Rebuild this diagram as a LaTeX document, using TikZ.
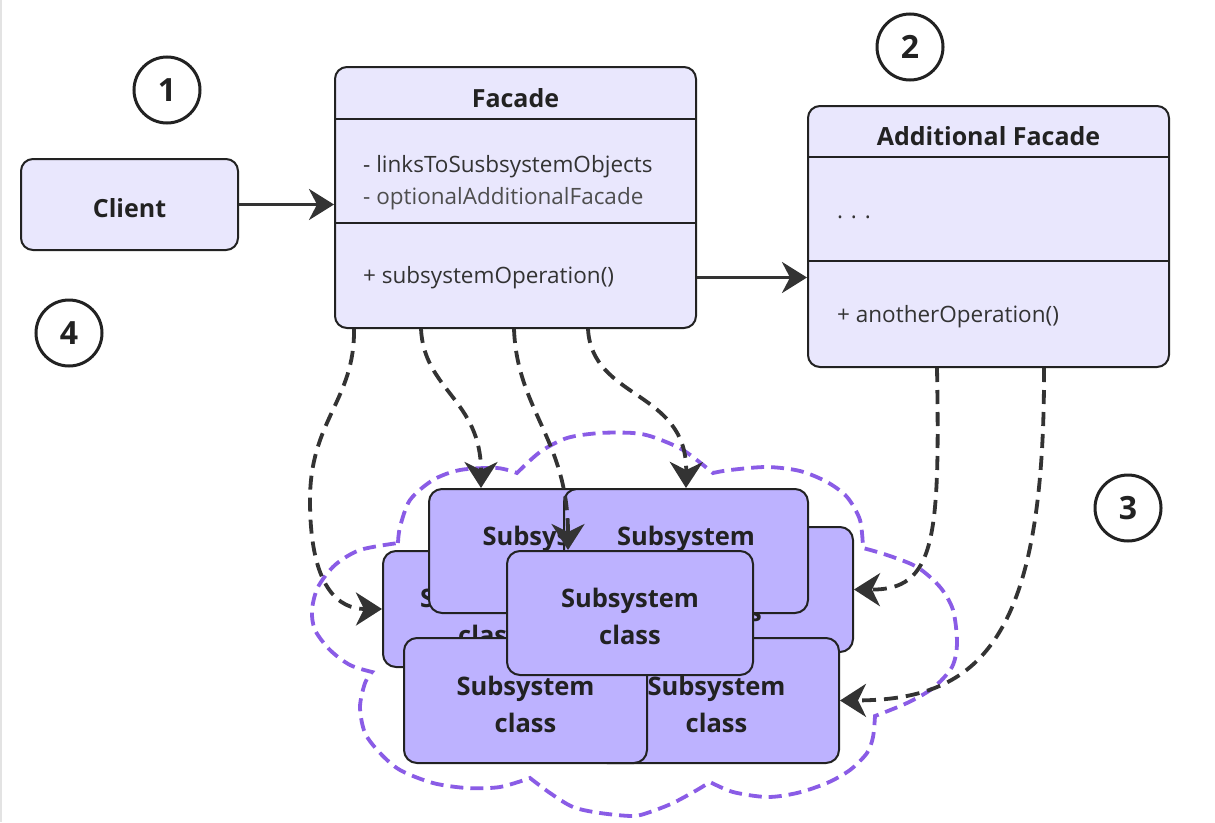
\documentclass[tikz,border=0pt]{standalone}
\usepackage{fontspec}
\setmainfont{Open Sans}
\usetikzlibrary{arrows.meta,calc}

\definecolor{classfill}{HTML}{E9E7FD}
\definecolor{subfill}{HTML}{BDB2FF}
\definecolor{edgeink}{HTML}{333333}
\definecolor{ink}{HTML}{222222}
\definecolor{cloudink}{HTML}{8A5CE6}

\begin{document}
\begin{tikzpicture}[x=1pt,y=-1pt,
  box/.style={draw=ink, line width=2pt, rounded corners=12pt, fill=classfill, inner sep=0pt},
  subbox/.style={draw=ink, line width=2pt, rounded corners=13pt, fill=subfill,
    align=center, text=ink, inner sep=0pt, text height=63pt, text depth=0pt,
    font=\bfseries\fontsize{25.5}{36.7}\selectfont},
  titletext/.style={anchor=base, inner sep=0pt, text=ink, font=\bfseries\fontsize{25}{30}\selectfont},
  membertext/.style={anchor=base west, inner sep=0pt, text=edgeink, font=\fontsize{22.5}{27}\selectfont},
  divider/.style={draw=ink, line width=2pt},
  numcircle/.style={circle, draw=ink, line width=3pt, minimum size=66pt, inner sep=0pt,
    text=ink, font=\bfseries\fontsize{32}{32}\selectfont},
  solidarrow/.style={draw=edgeink, line width=3.5pt, -{Stealth[length=25pt,width=31pt,inset=8pt]}},
  dasharrow/.style={draw=edgeink, line width=3.8pt, dash pattern=on 14pt off 8pt,
    -{Stealth[length=26pt,width=33pt,inset=8pt]}},
  cloudline/.style={draw=cloudink, line width=3.8pt, dash pattern=on 13pt off 7pt}
]
\useasboundingbox (0,0) rectangle (1215,822);
\fill[white] (0,0) rectangle (1215,822);
\draw[gray!22, line width=1.5pt] (1,0) -- (1,822);

% step markers
\node[numcircle] (n1) at (167,90) {1};
\node[numcircle] (n2) at (910,47) {2};
\node[numcircle] (n3) at (1128,508) {3};
\node[numcircle] (n4) at (69,333) {4};

% client
\node[box, minimum width=217pt, minimum height=91pt] (client) at (129.5,204.5) {};
\node[titletext] (clientT) at (129.5,217) {Client};

% facade class
\node[box, minimum width=361pt, minimum height=261pt] (facade) at (515.5,197.5) {};
\node[titletext] (facadeT) at (515.5,107) {Facade};
\draw[divider] ($(facade.north west)+(0,53)$) -- ($(facade.north east)+(0,53)$);
\draw[divider] ($(facade.north west)+(0,157)$) -- ($(facade.north east)+(0,157)$);
\node[membertext] (fa1) at (363,172) {- linksToSusbsystemObjects};
\node[membertext, text=ink!80] (fa2) at (363,204) {- optionalAdditionalFacade};
\node[membertext] (fm1) at (363,283) {+ subsystemOperation()};

% additional facade class
\node[box, minimum width=361pt, minimum height=261pt] (addl) at (988.5,236.5) {};
\node[titletext] (addlT) at (988.5,145) {Additional Facade};
\draw[divider] ($(addl.north west)+(0,52)$) -- ($(addl.north east)+(0,52)$);
\draw[divider] ($(addl.north west)+(0,156)$) -- ($(addl.north east)+(0,156)$);
\node[membertext] (aa1) at (837,218) {. . .};
\node[membertext] (am1) at (837,322) {+ anotherOperation()};

% subsystem boundary
\draw[cloudline]
  plot[smooth] coordinates {(398,543) (400,527) (410,500) (433,480) (460,470) (497,468) (517,473)}
  -- plot[smooth] coordinates {(517,473) (540,452) (567,438) (600,433) (633,433) (653,437) (683,450) (713,473)}
  -- plot[smooth] coordinates {(713,473) (730,470) (767,467) (800,471) (827,482) (847,497) (860,520) (863,548)}
  -- plot[smooth] coordinates {(863,548) (887,555) (917,567) (940,587) (953,610) (957,643) (952,667) (933,688) (907,703) (875,716)}
  -- plot[smooth] coordinates {(875,716) (873,737) (867,753) (850,770) (827,783) (797,793) (767,797) (733,792) (710,782)}
  -- plot[smooth] coordinates {(710,782) (697,790) (673,803) (650,812) (633,816) (600,813) (573,807) (550,793) (530,778)}
  -- plot[smooth] coordinates {(530,778) (500,787) (467,788) (433,783) (400,770) (380,753) (365,733) (360,707) (365,683) (372,672)}
  -- plot[smooth] coordinates {(372,672) (350,665) (330,650) (315,630) (312,610) (318,587) (335,565) (360,550) (398,543)};

% subsystem classes, back to front
\node[subbox, minimum width=212pt, minimum height=116pt, text height=71pt] (bl) at (489,609) {Subsystem\\class};
\node[subbox, minimum width=245pt, minimum height=124pt] (b1) at (551.5,551) {Subsystem\\class};
\node[subbox, minimum width=244pt, minimum height=125pt] (b3) at (731,589.5) {Subsystem\\class};
\node[subbox, minimum width=244pt, minimum height=124pt] (b2) at (686,551) {Subsystem\\class};
\node[subbox, minimum width=245pt, minimum height=125pt] (b5) at (716.5,700.5) {Subsystem\\class};
\node[subbox, minimum width=243pt, minimum height=125pt] (b4) at (525.5,700.5) {Subsystem\\class};
\node[subbox, minimum width=246pt, minimum height=124pt] (bc) at (630,613) {Subsystem\\class};

% associations
\draw[solidarrow] (client.east) -- (client.east -| facade.west);
\coordinate (fout) at ($(facade.south east)+(0,-51.5)$);
\draw[solidarrow] (fout) -- (fout -| addl.west);

% dependencies on the subsystem
\coordinate (s1) at ($(facade.south west)+(20,0)$);
\coordinate (s2) at ($(facade.south west)+(87,0)$);
\coordinate (s3) at ($(facade.south west)+(180,0)$);
\coordinate (s4) at ($(facade.south west)+(254,0)$);
\coordinate (t2) at ($(b1.north)+(-70.5,0)$);
\coordinate (t3) at ($(bc.north)+(-62,0)$);
\coordinate (s5) at ($(addl.south west)+(130,0)$);
\coordinate (s6) at ($(addl.south west)+(237,0)$);

\draw[dasharrow] (s1) .. controls (355,400) and (310,420) .. (310,500)
                      .. controls (310,590) and (340,609) .. (bl.west);
\draw[dasharrow] (s2) .. controls (424,390) and (481,400) .. (t2);
\draw[dasharrow] (s3) .. controls (517,410) and (568,440) .. (t3);
\draw[dasharrow] (s4) .. controls (592,400) and (687,390) .. (b2.north);
\draw[dasharrow] (s5) .. controls (940,540) and (935,590) .. (b3.east);
\draw[dasharrow] (s6) .. controls (1045,640) and (980,700) .. (b5.east);
\end{tikzpicture}
\end{document}
